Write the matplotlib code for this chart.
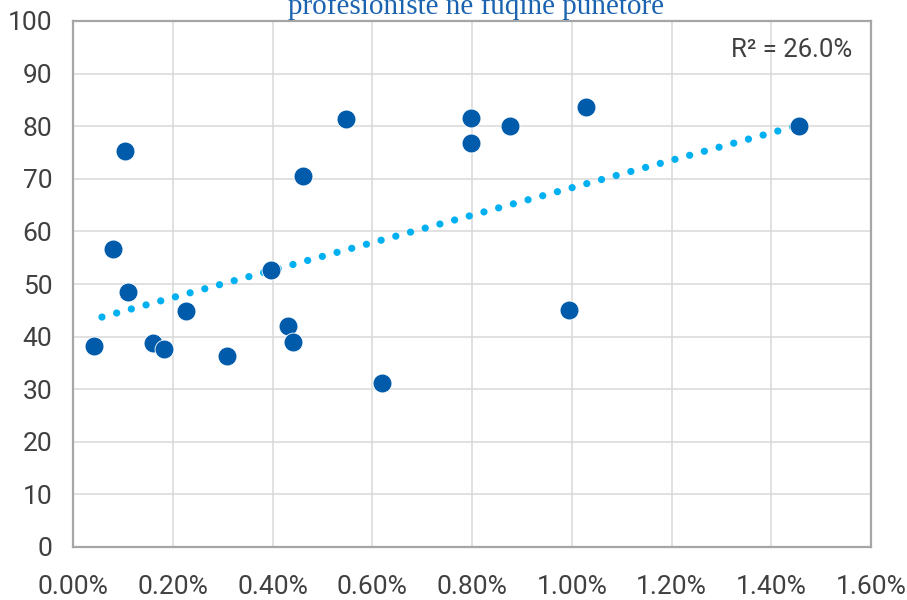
import matplotlib.pyplot as plt
from matplotlib.ticker import FuncFormatter, MultipleLocator
import numpy as np

# share of professionals in the workforce (%) vs score
share_pct = [0.042, 0.080, 0.105, 0.111, 0.160, 0.182, 0.227, 0.309, 0.396, 0.431,
             0.442, 0.462, 0.547, 0.620, 0.798, 0.798, 0.877, 0.994, 1.029, 1.456]
score = [38.2, 56.6, 75.3, 48.4, 38.7, 37.6, 44.9, 36.4, 52.7, 42.1,
         38.9, 70.5, 81.4, 31.1, 81.6, 76.9, 80.1, 45.1, 83.7, 80.1]

# trendline (Excel linear trend)
trend_slope = 26.1
trend_intercept = 42.2
trend_range = [0.058, 1.456]

title = "profesioniste në fuqinë punëtore"
r2_label = "R² = 26.0%"

dark_blue = "#005bab"
light_blue = "#00b0f0"
text_col = "#404040"

plt.rcParams['font.family'] = ['Roboto', 'DejaVu Sans']

fig = plt.figure(figsize=(9.07, 6), dpi=100)
ax = fig.add_axes([73 / 907, 1 - 547 / 600, 798 / 907, 526 / 600])

x = np.array(share_pct)
y = np.array(score)

xt = np.linspace(trend_range[0], trend_range[1], 200)
ax.plot(xt, trend_slope * xt + trend_intercept, color=light_blue, lw=5.2,
        linestyle=(0, (0.01, 2.1)), dash_capstyle='round', zorder=2)

ax.scatter(x, y, s=185, color=dark_blue, edgecolor='white', linewidth=0.6, zorder=3)

ax.set_xlim(0, 1.6)
ax.set_ylim(0, 100)
ax.xaxis.set_major_locator(MultipleLocator(0.2))
ax.yaxis.set_major_locator(MultipleLocator(10))
ax.xaxis.set_major_formatter(FuncFormatter(lambda v, p: f"{v:.2f}%"))
ax.grid(True, color='#d9d9d9', lw=1.1)
ax.set_axisbelow(True)
for s in ax.spines.values():
    s.set_color('#a6a6a6')
    s.set_linewidth(1.6)
ax.tick_params(length=0, labelsize=19, colors=text_col)
ax.tick_params(axis='x', pad=20)
ax.tick_params(axis='y', pad=15)

fig.text(852 / 907, 1 - 50 / 600, r2_label, ha='right', va='center',
         fontsize=18.5, color=text_col)

# title is partly cut off at the top, as in the source
fig.text(476 / 907, 1 - 14 / 600, title, ha='center', va='baseline',
         fontsize=21, color='#1b63b0', family=['Liberation Serif', 'DejaVu Serif'])

fig.savefig("out.png", dpi=100)
